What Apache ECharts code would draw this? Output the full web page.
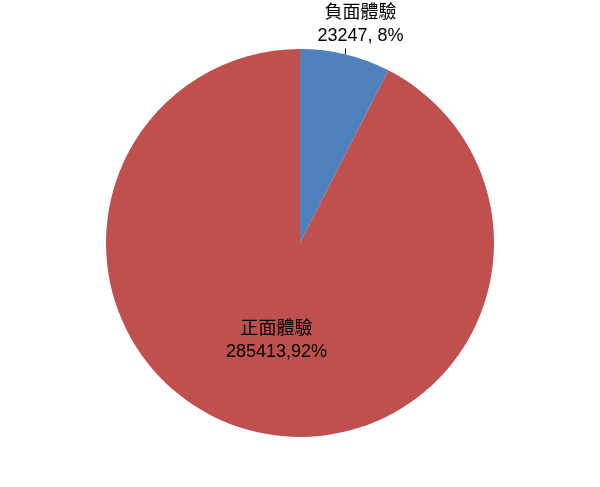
<!DOCTYPE html>
<html>
<head>
<meta charset="utf-8">
<script src="https://cdn.jsdelivr.net/npm/echarts@6/dist/echarts.min.js"></script>
<style>
  html, body { margin: 0; padding: 0; background: #fff; }
  #chart { width: 600px; height: 487px; }
</style>
</head>
<body>
<div id="chart"></div>
<script>
const names = ['負面體驗', '正面體驗'];
const counts = [23247, 285413];
const colors = ['#4F81BD', '#C0504D'];
const separators = [', ', ','];

const chart = echarts.init(document.getElementById('chart'));
const font = '"Liberation Sans", Arial, "Noto Sans CJK TC", sans-serif';

chart.setOption({
  animation: false,
  series: [{
    type: 'pie',
    center: [300, 243],
    radius: 194,
    startAngle: 90,
    percentPrecision: 0,
    data: names.map((n, i) => ({
      name: n,
      value: counts[i],
      itemStyle: { color: colors[i] },
      label: {
        position: i === 0 ? 'outside' : 'inside',
        formatter: '{b}\n{c}' + separators[i] + '{d}%'
      },
      labelLine: { show: i === 0, length: 6, length2: 0, lineStyle: { color: '#000', width: 1 } }
    })),
    label: {
      color: '#000',
      fontSize: 18,
      lineHeight: 23,
      fontFamily: font,
      align: 'center'
    },
    labelLayout: function (p) {
      if (p.dataIndex === 0) {
        const pt = p.labelLinePoints[0];
        return {
          x: pt[0] + 15, y: pt[1] - 7,
          align: 'center', verticalAlign: 'bottom',
          labelLinePoints: [pt, [pt[0], pt[1] - 6], [pt[0], pt[1] - 6]]
        };
      }
      return { dx: 0, dy: 0 };
    }
  }]
});
</script>
</body>
</html>
